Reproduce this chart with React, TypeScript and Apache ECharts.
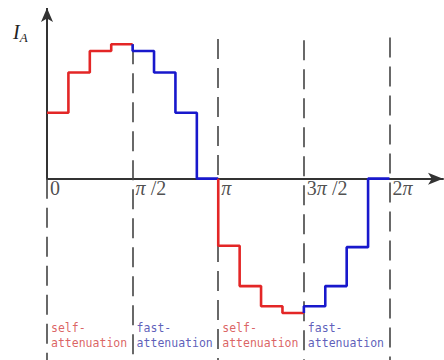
import React, { useEffect, useRef } from "react";
import * as echarts from "echarts";

// Current level of each π/8 segment across one period (0 … 2π), amplitude normalised to 1
const SEGMENT_LEVELS = [
  0.49, 0.79, 0.95, 1.0,
  0.95, 0.79, 0.49, 0,
  -0.5, -0.8, -0.95, -1.0,
  -0.95, -0.8, -0.51, 0,
];
// Segments per quarter period
const STEPS_PER_QUARTER = 4;
// Phase of each quarter period
const PHASE_NAMES = ["self-\nattenuation", "fast-\nattenuation", "self-\nattenuation", "fast-\nattenuation"];
const PHASE_COLORS = ["#e32626", "#1818cc", "#e32626", "#1818cc"];
const PHASE_TEXT_COLORS = ["#d23a3a", "#3434a8", "#d23a3a", "#3434a8"];
// Tick positions (x in units of π/8) and their labels, in rich-text markup
const TICK_X = [0, 4, 8, 12, 16];
const TICK_LABELS = ["0", "{p|π} /2", "{p|π}", "3{p|π} /2", "2{p|π}"];
// Top of each dashed guide line (level), at 0, π/2, π, 3π/2, 2π
const GUIDE_TOP = [0, 1.0, 1.04, 1.03, 1.05];

const X_MAX = 18.5;
const Y_MIN = -1.35;
const Y_MAX = 1.27;
const LABEL_LEVEL = -1.165;

export default function App() {
  const ref = useRef<HTMLDivElement>(null);

  useEffect(() => {
    if (!ref.current) return;
    const chart = echarts.init(ref.current, null, { renderer: "svg" });

    const stepSeries = PHASE_NAMES.map((_, q) => {
      const start = q * STEPS_PER_QUARTER;
      const data: number[][] = [];
      if (q > 0) data.push([start, SEGMENT_LEVELS[start - 1]]);
      for (let i = 0; i < STEPS_PER_QUARTER; i++) {
        data.push([start + i, SEGMENT_LEVELS[start + i]]);
      }
      data.push([start + STEPS_PER_QUARTER, SEGMENT_LEVELS[start + STEPS_PER_QUARTER - 1]]);
      return {
        type: "line",
        step: "end",
        data,
        symbol: "none",
        z: 5,
        lineStyle: { color: PHASE_COLORS[q], width: 2.6 },
      };
    });

    const guideLines = TICK_X.map((x, i) => [
      { coord: [x, GUIDE_TOP[i]] },
      { coord: [x, Y_MIN] },
    ]);

    const serif = "Liberation Serif";

    const tickLabels = {
      type: "scatter",
      symbolSize: 0,
      z: 6,
      silent: true,
      data: TICK_X.map((x, i) => ({
        value: [x, 0],
        label: {
          show: true,
          position: [3, -1],
          formatter: TICK_LABELS[i],
          fontFamily: serif,
          fontSize: 20,
          color: "#222222",
          rich: {
            p: { fontFamily: serif, fontStyle: "italic", fontSize: 20, color: "#222222" },
          },
        },
      })),
    };

    const phaseLabels = {
      type: "scatter",
      symbolSize: 0,
      z: 6,
      silent: true,
      data: PHASE_NAMES.map((name, q) => ({
        value: [q * STEPS_PER_QUARTER, LABEL_LEVEL],
        label: {
          show: true,
          position: "right",
          distance: 4,
          formatter: name,
          color: PHASE_TEXT_COLORS[q],
          fontFamily: "DejaVu Sans Mono",
          fontSize: 11.5,
          lineHeight: 15,
          align: "left",
          verticalAlign: "middle",
        },
      })),
    };

    chart.setOption({
      animation: false,
      backgroundColor: "#ffffff",
      grid: { left: 47, right: 1, top: 8, bottom: 0, containLabel: false, outerBoundsMode: "none" },
      xAxis: {
        type: "value",
        min: 0,
        max: X_MAX,
        interval: 4,
        splitLine: { show: false },
        axisTick: { show: false },
        axisLabel: { show: false },
        axisLine: {
          onZero: true,
          symbol: ["none", "arrow"],
          symbolSize: [9, 15],
          lineStyle: { color: "#333333", width: 2 },
        },
      },
      yAxis: {
        type: "value",
        min: Y_MIN,
        max: Y_MAX,
        show: false,
        splitLine: { show: false },
      },
      graphic: [
        {
          type: "text",
          left: 13,
          top: 22,
          style: {
            text: "{i|I}{a|A}",
            rich: {
              i: { fontFamily: serif, fontStyle: "italic", fontSize: 20, fill: "#222" },
              a: { fontFamily: serif, fontStyle: "italic", fontSize: 13, fill: "#222", padding: [10, 0, 0, 0] },
            },
          },
        },
      ],
      series: [
        ...stepSeries,
        {
          type: "line",
          data: [],
          silent: true,
          markLine: {
            silent: true,
            symbol: ["none", "none"],
            label: { show: false },
            lineStyle: { color: "#444444", width: 1.6, type: [20, 9] },
            data: guideLines,
          },
        },
        {
          // vertical I_A axis with arrow head
          type: "line",
          data: [],
          silent: true,
          markLine: {
            silent: true,
            symbol: ["none", "arrow"],
            symbolSize: [9, 14],
            label: { show: false },
            lineStyle: { color: "#333333", width: 2, type: "solid" },
            data: [[{ coord: [0, 0] }, { coord: [0, Y_MAX] }]],
          },
        },
        tickLabels,
        phaseLabels,
      ],
    });

    return () => chart.dispose();
  }, []);

  return (
    <div
      ref={ref}
      style={{ position: "absolute", left: 0, top: 0, width: 444, height: 360 }}
    />
  );
}
